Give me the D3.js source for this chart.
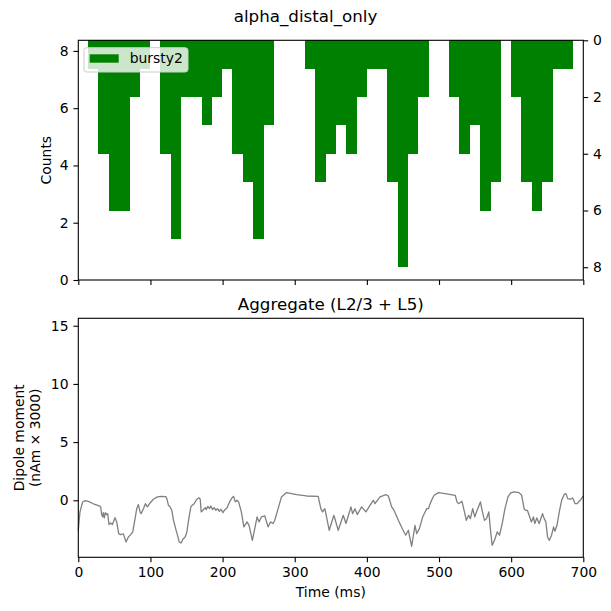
<!DOCTYPE html>
<html lang='en'>
<head>
	<meta charset='UTF-8'/>
	<title>alpha_distal_only</title>
	<script src='https://cdnjs.cloudflare.com/ajax/libs/d3/7.8.5/d3.min.js'></script>
	<style>
		body {margin: 0; background: #fff;}
		svg {font-family: 'DejaVu Sans', sans-serif;}
	</style>
</head>
<body>
	<div class='graph'></div>
	<script>
		// histogram: bin edges (ms) and spike counts per bin
		const binEdges = [13.5, 27.8, 42.1, 56.4, 70.7, 85.0, 99.3, 113.6, 127.9, 142.2,
			156.5, 170.8, 185.1, 199.4, 213.7, 228.0, 242.3, 256.6, 270.9, 285.2,
			299.5, 313.8, 328.1, 342.4, 356.7, 371.0, 385.3, 399.6, 413.9, 428.2,
			442.5, 456.8, 471.1, 485.4, 499.7, 514.0, 528.3, 542.6, 556.9, 571.2,
			585.5, 599.8, 614.1, 628.4, 642.7, 657.0, 671.3, 685.6];
		const counts = [1, 4, 6, 6, 2, 1, 0, 4, 7, 2, 2, 3, 2, 1, 4, 5, 7, 3, 0, 0,
			0, 1, 5, 4, 3, 4, 2, 1, 1, 5, 8, 4, 2, 0, 0, 2, 4, 3, 6, 5,
			0, 2, 5, 6, 5, 1, 1];

		// aggregate dipole trace
		const times = [0, 2.3, 6, 9.3, 13.9, 20.8, 30, 31, 32.4, 33.8, 34.7, 36.1, 37.5, 39.4, 40.7,
			42.6, 44.9, 47.2, 48.6, 50.9, 53.2, 56, 58.8, 62.5, 63.9, 66.2, 69.4, 72.7, 75.5, 78.7,
			81, 83.3, 85.6, 87, 90.3, 93, 95.8, 99.5, 104, 109.7, 115.7, 121.3, 122.7, 125, 127.3,
			129.6, 132, 135.6, 137.5, 139.8, 142.6, 144.9, 148.1, 150.5, 153.2, 156, 157.9, 160.6,
			163.4, 165.3, 167.6, 169, 170.4, 172.7, 176, 177.3, 179.6, 181.9, 183.8, 186.1, 188.4,
			190.7, 193, 195.4, 197.7, 200.5, 202.8, 206, 209.7, 212.9, 215.3, 217.6, 219.9, 222.2,
			226, 229.5, 234, 236.7, 241.3, 244.6, 247.8, 250.6, 253.8, 258.5, 263.1, 266.3, 270,
			272.3, 277, 281.6, 288.6, 302.4, 316.3, 332.5, 336.2, 338.6, 341.8, 347.8, 354.3, 360.3,
			367.3, 371, 377.9, 380.2, 383.5, 386.7, 392.7, 398.7, 404.3, 408.9, 411.2, 418.2, 426.5,
			429.8, 434.4, 437.6, 443.6, 449.2, 453.8, 457.5, 462.1, 466.7, 469, 472.8, 477.4, 480.7,
			483, 485.3, 488.6, 493.2, 499.3, 506.3, 522.5, 524.9, 527.2, 531.8, 534.2, 537.9, 541.1,
			543.5, 546.7, 549.5, 552.8, 557.4, 559.7, 563, 565.8, 569, 571.4, 573.7, 576.9, 580.7,
			583.9, 587.6, 591.4, 595.6, 599.3, 603.9, 610.9, 614.6, 617.9, 620.2, 622.5, 624.9,
			628.1, 630.9, 632.8, 635.6, 638.8, 641.1, 643.5, 645.8, 648.1, 650.4, 652.8, 656, 658.8,
			660.7, 663.5, 666.7, 670, 673.7, 676, 678.3, 682.1, 685.3, 688.6, 691.4, 696.9, 700];
		const dipole = [-2.6, -1.0, -0.15, -0.03, -0.1, -0.3, -0.5, -0.57, -1.23, -1.43, -1.06, -1.52, -1.06, -1.23, -1.15,
			-2.09, -1.95, -2.09, -1.86, -1.49, -1.86, -2.87, -2.95, -2.89, -3.15, -3.58, -3.15, -2.95, -2.72, -1.58,
			-0.72, -0.37, -1.0, -1.15, -0.72, -0.29, -0.57, -0.23, 0.09, 0.29, 0.34, 0.32, 0.14, -0.43, -0.57,
			-0.86, -1.72, -2.58, -3.0, -3.58, -3.67, -3.35, -3.15, -2.72, -1.58, -0.57, -0.43, -0.29,
			0, 0.14, 0.2, 0.09, -1.0, -0.86, -0.63, -0.8, -0.52, -0.72, -0.49, -0.8, -0.63,
			-0.86, -0.72, -0.95, -0.77, -1.06, -0.83, -0.66, -0.14, 0.2, 0.34, -0.14, 0, -0.14,
			-1.0, -2.29, -1.86, -2.15, -3.44, -2.44, -1.43, -1.86, -1.43, -1.35, -2.29, -1.86, -2.0,
			-1.72, -0.72, 0.29, 0.66, 0.49, 0.37, 0.34, -0.72, -1.0, -0.72, -2.58, -1.29, -2.58,
			-1.29, -2.0, -0.57, -1.15, -0.72, -1.23, -0.57, -1.0, -0.43, 0, -0.29, 0.29, 0.49,
			0.37, -0.57, -0.86, -1.72, -2.44, -3.0, -2.58, -3.95, -2.15, -2.87, -2.44, -1.43, -1.0,
			-0.72, -0.72, -0.14, 0.43, 0.66, 0.6, 0.43, -0.14, -0.29, -0.09, -0.72, -1.72, -1.29,
			-1.58, -0.72, -1.43, -0.86, -0.14, -0.86, -1.72, -1.58, -1.0, -2.58, -3.87, -3.44, -2.72,
			-3.0, -2.0, -0.72, 0.29, 0.63, 0.72, 0.66, 0.43, -0.72, -0.86, -0.86, -1.29,
			-1.86, -1.43, -2.0, -1.52, -2.0, -1.58, -1.15, -1.58, -1.86, -3.15, -3.44, -3.0, -2.29,
			-2.66, -2.15, -1.0, 0, 0.52, 0.57, 0.14, 0.09, 0.2, -0.29, -0.29, 0.09, 0.37];

		const xTicks = [0, 100, 200, 300, 400, 500, 600, 700];
		const countTicks = [0, 2, 4, 6, 8];
		const dipoleTicks = [0, 5, 10, 15];

		const width = 611, height = 611;
		const left = 78.3, right = 583.3;
		const top1 = 40.3, bottom1 = 280;
		const top2 = 318.3, bottom2 = 557.3;
		const tickLen = 4.9, tickPad = 4.9, fs = 13.9;

		const svg = d3.select('.graph')
			.append('svg')
			.attr('width', width)
			.attr('height', height);

		const X = d3.scaleLinear().domain([0, 700]).range([left, right]);
		const Y_LEFT = d3.scaleLinear().domain([0, 8.37]).range([bottom1, top1]);
		const Y_RIGHT = d3.scaleLinear().domain([0, 8.45]).range([top1, bottom1]);
		const Y_DIP = d3.scaleLinear().domain([-4.9, 15.64]).range([bottom2, top2]);

		function styleAxis(g) {
			g.select('.domain').remove();
			g.selectAll('line').attr('stroke', '#000').attr('stroke-width', 1.1);
			g.selectAll('text').attr('font-size', fs).attr('font-family', 'DejaVu Sans').attr('fill', '#000');
		}

		// title
		svg.append('text')
			.attr('x', width / 2)
			.attr('y', 22)
			.attr('text-anchor', 'middle')
			.attr('font-size', 16.7)
			.text('alpha_distal_only');

		// ---- top panel: spike histogram ----
		const bars = binEdges.slice(0, -1).map((e, i) => ({x0: e, x1: binEdges[i + 1], c: counts[i]}))
			.filter(d => d.c > 0);
		svg.append('g')
			.selectAll('rect')
			.data(bars)
			.enter()
			.append('rect')
			.attr('x', d => X(d.x0))
			.attr('width', d => X(d.x1) - X(d.x0) + 0.3)
			.attr('y', Y_RIGHT(0))
			.attr('height', d => Y_RIGHT(d.c) - Y_RIGHT(0))
			.attr('fill', '#008000')
			.attr('shape-rendering', 'crispEdges');

		svg.append('g')
			.attr('transform', 'translate(0,' + bottom1 + ')')
			.call(d3.axisBottom(X).tickValues(xTicks).tickFormat('').tickSize(tickLen).tickSizeOuter(0))
			.call(styleAxis);
		svg.append('g')
			.attr('transform', 'translate(' + left + ',0)')
			.call(d3.axisLeft(Y_LEFT).tickValues(countTicks).tickSize(tickLen).tickPadding(tickPad).tickSizeOuter(0))
			.call(styleAxis);
		svg.append('g')
			.attr('transform', 'translate(' + right + ',0)')
			.call(d3.axisRight(Y_RIGHT).tickValues(countTicks).tickSize(tickLen).tickPadding(tickPad).tickSizeOuter(0))
			.call(styleAxis);
		svg.append('rect')
			.attr('x', left).attr('y', top1)
			.attr('width', right - left).attr('height', bottom1 - top1)
			.attr('fill', 'none').attr('stroke', '#000').attr('stroke-width', 1.1);

		svg.append('text')
			.attr('transform', 'translate(51,' + (top1 + bottom1) / 2 + ') rotate(-90)')
			.attr('text-anchor', 'middle')
			.attr('font-size', fs)
			.text('Counts');

		// legend
		const legend = svg.append('g').attr('transform', 'translate(84,47.7)');
		legend.append('rect')
			.attr('width', 104).attr('height', 24.3).attr('rx', 2.8)
			.attr('fill', '#fff').attr('fill-opacity', 0.8)
			.attr('stroke', '#cccccc').attr('stroke-width', 1);
		legend.append('rect')
			.attr('x', 5.7).attr('y', 6.6).attr('width', 29).attr('height', 8.4)
			.attr('fill', '#008000');
		legend.append('text')
			.attr('x', 45.7).attr('y', 15.8)
			.attr('font-size', fs)
			.text('bursty2');

		// ---- bottom panel: dipole ----
		svg.append('text')
			.attr('x', (left + right) / 2)
			.attr('y', 310)
			.attr('text-anchor', 'middle')
			.attr('font-size', 16.7)
			.text('Aggregate (L2/3 + L5)');

		const line = d3.line()
			.x((d, i) => X(times[i]))
			.y(d => Y_DIP(d));
		svg.append('path')
			.datum(dipole)
			.attr('d', line)
			.attr('fill', 'none')
			.attr('stroke', '#808080')
			.attr('stroke-width', 1.3)
			.attr('stroke-linejoin', 'round');

		svg.append('g')
			.attr('transform', 'translate(0,' + bottom2 + ')')
			.call(d3.axisBottom(X).tickValues(xTicks).tickFormat(d3.format('d')).tickSize(tickLen).tickPadding(tickPad).tickSizeOuter(0))
			.call(styleAxis);
		svg.append('g')
			.attr('transform', 'translate(' + left + ',0)')
			.call(d3.axisLeft(Y_DIP).tickValues(dipoleTicks).tickSize(tickLen).tickPadding(tickPad).tickSizeOuter(0))
			.call(styleAxis);
		svg.append('rect')
			.attr('x', left).attr('y', top2)
			.attr('width', right - left).attr('height', bottom2 - top2)
			.attr('fill', 'none').attr('stroke', '#000').attr('stroke-width', 1.1);

		svg.append('text')
			.attr('x', (left + right) / 2)
			.attr('y', 597)
			.attr('text-anchor', 'middle')
			.attr('font-size', fs)
			.text('Time (ms)');

		const yl = svg.append('text')
			.attr('transform', 'translate(0,' + (top2 + bottom2) / 2 + ') rotate(-90)')
			.attr('text-anchor', 'middle')
			.attr('font-size', fs);
		yl.append('tspan').attr('x', 0).attr('y', 24).text('Dipole moment');
		yl.append('tspan').attr('x', 0).attr('y', 39.5).text('(nAm × 3000)');
	</script>
</body>
</html>
